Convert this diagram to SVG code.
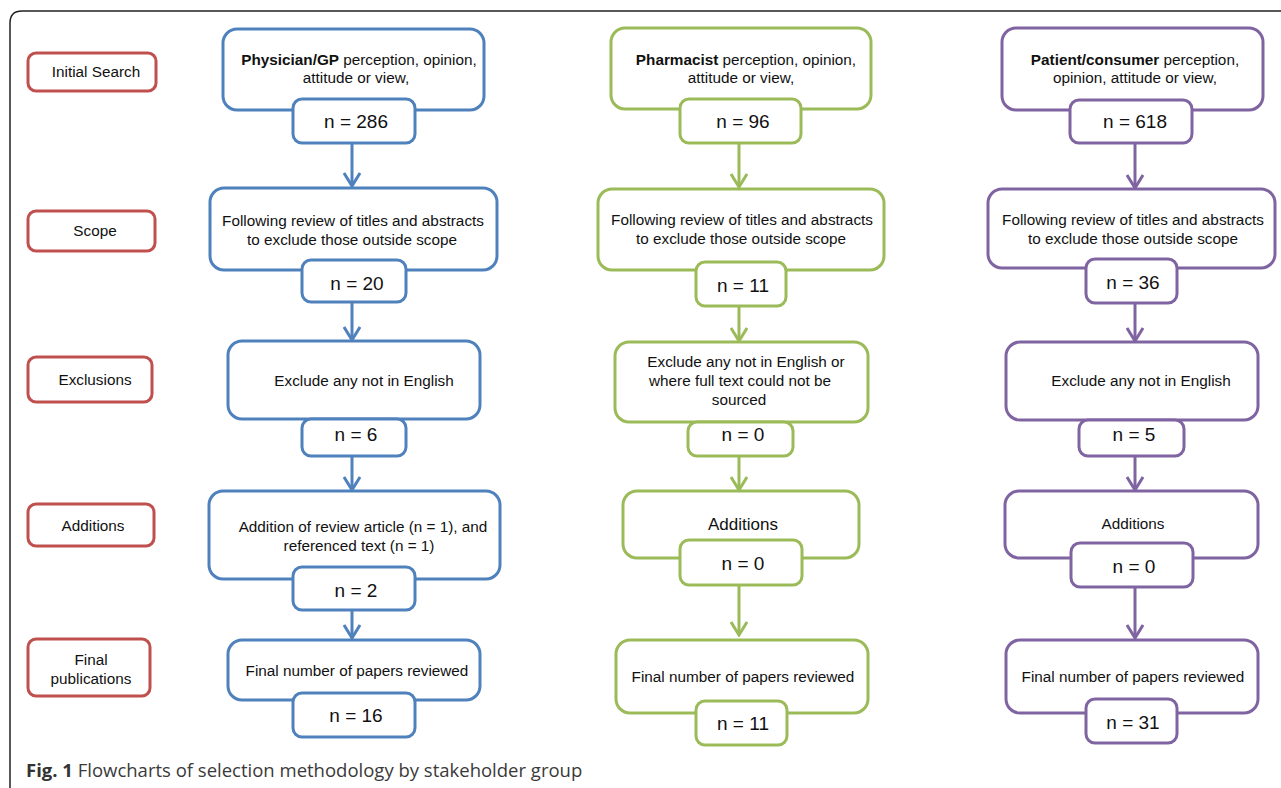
<svg xmlns="http://www.w3.org/2000/svg" width="1281" height="788" viewBox="0 0 1281 788">
<style>
.t{font-family:"Liberation Sans",Arial,sans-serif;font-size:15.3px;fill:#111;text-anchor:middle}
.n{font-family:"Liberation Sans",Arial,sans-serif;font-size:19px;fill:#111;text-anchor:middle}
.b{font-weight:bold}
.lab rect{fill:#fff;stroke:#C0504D;stroke-width:3}
.blue rect{fill:#fff;stroke:#4F81BD;stroke-width:3}
.green rect{fill:#fff;stroke:#9BBB59;stroke-width:3}
.purple rect{fill:#fff;stroke:#8064A2;stroke-width:3}
.cb{stroke:#4F81BD;stroke-width:3;fill:none}
.cg{stroke:#9BBB59;stroke-width:3;fill:none}
.cp{stroke:#8064A2;stroke-width:3;fill:none}
.cap{font-family:"Open Sans","Liberation Sans",sans-serif;font-size:18.5px;fill:#3a3a3a}
</style>
<defs>
<marker id="ab" viewBox="0 0 16 18" refX="14" refY="9" markerWidth="16" markerHeight="18" markerUnits="userSpaceOnUse" orient="auto"><path d="M1,1 L14,9 L1,17" fill="none" stroke="#4F81BD" stroke-width="3"/></marker>
<marker id="ag" viewBox="0 0 16 18" refX="14" refY="9" markerWidth="16" markerHeight="18" markerUnits="userSpaceOnUse" orient="auto"><path d="M1,1 L14,9 L1,17" fill="none" stroke="#9BBB59" stroke-width="3"/></marker>
<marker id="ap" viewBox="0 0 16 18" refX="14" refY="9" markerWidth="16" markerHeight="18" markerUnits="userSpaceOnUse" orient="auto"><path d="M1,1 L14,9 L1,17" fill="none" stroke="#8064A2" stroke-width="3"/></marker>
</defs>
<rect width="1281" height="788" fill="#fff"/>
<path d="M10,788 V23 Q10,11 22,11 H1281" fill="none" stroke="#222" stroke-width="1.5"/>

<g id="labels" class="lab">
<g id="lab-initial"><rect x="28" y="53" width="128" height="38" rx="8"/><text class="t" x="96" y="77">Initial Search</text></g>
<g id="lab-scope"><rect x="28" y="211" width="127" height="40" rx="8"/><text class="t" x="95" y="236">Scope</text></g>
<g id="lab-excl"><rect x="28" y="357" width="124" height="45" rx="8"/><text class="t" x="95" y="385">Exclusions</text></g>
<g id="lab-add"><rect x="28" y="504" width="126" height="42" rx="8"/><text class="t" x="93" y="531">Additions</text></g>
<g id="lab-final"><rect x="28" y="639" width="122" height="57" rx="8"/><text class="t" x="91" y="665">Final</text><text class="t" x="91" y="684">publications</text></g>
</g>

<g id="connectors">
<line class="cb" x1="352" y1="143" x2="352" y2="186" marker-end="url(#ab)"/>
<line class="cb" x1="352" y1="302" x2="352" y2="340" marker-end="url(#ab)"/>
<line class="cb" x1="352" y1="456" x2="352" y2="490" marker-end="url(#ab)"/>
<line class="cb" x1="352" y1="610" x2="352" y2="638" marker-end="url(#ab)"/>
<line class="cg" x1="739" y1="143" x2="739" y2="187" marker-end="url(#ag)"/>
<line class="cg" x1="739" y1="306" x2="739" y2="341" marker-end="url(#ag)"/>
<line class="cg" x1="739" y1="456" x2="739" y2="490" marker-end="url(#ag)"/>
<line class="cg" x1="739" y1="585" x2="739" y2="635" marker-end="url(#ag)"/>
<line class="cp" x1="1135" y1="143" x2="1135" y2="188" marker-end="url(#ap)"/>
<line class="cp" x1="1135" y1="303" x2="1135" y2="341" marker-end="url(#ap)"/>
<line class="cp" x1="1135" y1="456" x2="1135" y2="490" marker-end="url(#ap)"/>
<line class="cp" x1="1135" y1="587" x2="1135" y2="638" marker-end="url(#ap)"/>
</g>

<g id="blue" class="blue">
<g id="b1"><rect x="223" y="29" width="261" height="81" rx="14"/><text class="t" x="359" y="65"><tspan class="b">Physician/GP</tspan> perception, opinion,</text><text class="t" x="356" y="83">attitude or view,</text>
<rect x="293" y="99" width="122" height="44" rx="9"/><text class="n" x="356" y="128">n = 286</text></g>
<g id="b2"><rect x="210" y="188" width="287" height="82" rx="14"/><text class="t" x="353" y="226">Following review of titles and abstracts</text><text class="t" x="352" y="245">to exclude those outside scope</text>
<rect x="302" y="260" width="104" height="42" rx="9"/><text class="n" x="357" y="290">n = 20</text></g>
<g id="b3"><rect x="228" y="341" width="252" height="78" rx="14"/><text class="t" x="364" y="386">Exclude any not in English</text>
<rect x="302" y="419" width="104" height="37" rx="9"/><text class="n" x="356" y="441">n = 6</text></g>
<g id="b4"><rect x="209" y="491" width="291" height="88" rx="14"/><text class="t" x="363" y="532">Addition of review article (n = 1), and</text><text class="t" x="359" y="551">referenced text (n = 1)</text>
<rect x="293" y="567" width="122" height="43" rx="9"/><text class="n" x="356" y="597">n = 2</text></g>
<g id="b5"><rect x="228" y="640" width="252" height="60" rx="14"/><text class="t" x="357" y="676">Final number of papers reviewed</text>
<rect x="293" y="693" width="122" height="44" rx="9"/><text class="n" x="356" y="722">n = 16</text></g>
</g>

<g id="green" class="green">
<g id="g1"><rect x="611" y="28" width="260" height="81" rx="14"/><text class="t" x="746" y="65"><tspan class="b">Pharmacist</tspan> perception, opinion,</text><text class="t" x="741" y="83">attitude or view,</text>
<rect x="680" y="99" width="121" height="44" rx="9"/><text class="n" x="743" y="128">n = 96</text></g>
<g id="g2"><rect x="598" y="189" width="286" height="81" rx="14"/><text class="t" x="742" y="225">Following review of titles and abstracts</text><text class="t" x="741" y="244">to exclude those outside scope</text>
<rect x="696" y="262" width="90" height="44" rx="9"/><text class="n" x="743" y="292">n = 11</text></g>
<g id="g3"><rect x="615" y="342" width="253" height="80" rx="14"/><text class="t" x="746" y="367">Exclude any not in English or</text><text class="t" x="740" y="386">where full text could not be</text><text class="t" x="739" y="405">sourced</text>
<rect x="688" y="422" width="105" height="34" rx="9"/><text class="n" x="743" y="441">n = 0</text></g>
<g id="g4"><rect x="623" y="491" width="236" height="67" rx="14"/><text class="t" x="743" y="530" style="font-size:17px">Additions</text>
<rect x="680" y="540" width="122" height="45" rx="9"/><text class="n" x="743" y="570">n = 0</text></g>
<g id="g5"><rect x="616" y="640" width="252" height="73" rx="14"/><text class="t" x="743" y="682">Final number of papers reviewed</text>
<rect x="696" y="701" width="91" height="44" rx="9"/><text class="n" x="743" y="730">n = 11</text></g>
</g>

<g id="purple" class="purple">
<g id="p1"><rect x="1002" y="28" width="261" height="82" rx="14"/><text class="t" x="1135" y="65"><tspan class="b">Patient/consumer</tspan> perception,</text><text class="t" x="1135" y="83">opinion, attitude or view,</text>
<rect x="1070" y="100" width="122" height="43" rx="9"/><text class="n" x="1135" y="128">n = 618</text></g>
<g id="p2"><rect x="988" y="189" width="287" height="79" rx="14"/><text class="t" x="1133" y="225">Following review of titles and abstracts</text><text class="t" x="1133" y="244">to exclude those outside scope</text>
<rect x="1086" y="259" width="91" height="44" rx="9"/><text class="n" x="1133" y="289">n = 36</text></g>
<g id="p3"><rect x="1006" y="342" width="252" height="78" rx="14"/><text class="t" x="1141" y="386">Exclude any not in English</text>
<rect x="1079" y="420" width="105" height="36" rx="9"/><text class="n" x="1134" y="441">n = 5</text></g>
<g id="p4"><rect x="1005" y="491" width="253" height="67" rx="14"/><text class="t" x="1133" y="529">Additions</text>
<rect x="1071" y="543" width="122" height="44" rx="9"/><text class="n" x="1134" y="573">n = 0</text></g>
<g id="p5"><rect x="1006" y="640" width="252" height="73" rx="14"/><text class="t" x="1133" y="682">Final number of papers reviewed</text>
<rect x="1086" y="699" width="91" height="44" rx="9"/><text class="n" x="1133" y="729">n = 31</text></g>
</g>

<text class="cap" x="26" y="777"><tspan font-weight="bold" fill="#333">Fig. 1</tspan> Flowcharts of selection methodology by stakeholder group</text>
</svg>
